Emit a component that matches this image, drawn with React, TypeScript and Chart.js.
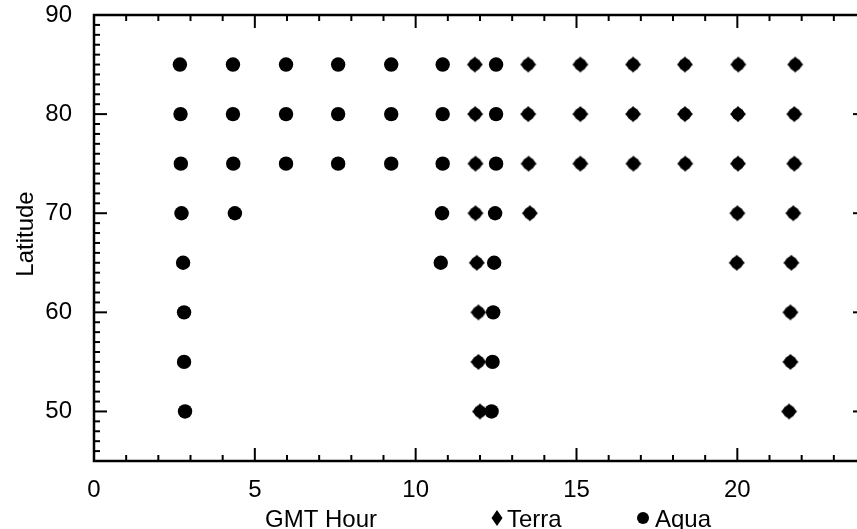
import React, { useEffect, useRef } from "react";
import { Chart, registerables } from "chart.js";

Chart.register(...registerables);

// ---- data (GMT hour, latitude) ----
const aquaHours = [
  2.67, 4.32, 5.97, 7.59, 9.24, 10.84, 12.5,
  2.69, 4.32, 5.97, 7.59, 9.24, 10.84, 12.5,
  2.7, 4.33, 5.97, 7.59, 9.24, 10.84, 12.5,
  2.72, 4.38, 10.82, 12.47,
  2.77, 10.78, 12.44,
  2.8, 12.41,
  2.8, 12.39,
  2.83, 12.36,
];
const aquaLats = [
  85, 85, 85, 85, 85, 85, 85,
  80, 80, 80, 80, 80, 80, 80,
  75, 75, 75, 75, 75, 75, 75,
  70, 70, 70, 70,
  65, 65, 65,
  60, 60,
  55, 55,
  50, 50,
];
const terraHours = [
  11.84, 13.5, 15.12, 16.76, 18.37, 20.03, 21.8,
  11.85, 13.5, 15.12, 16.76, 18.37, 20.02, 21.77,
  11.86, 13.51, 15.12, 16.77, 18.38, 20.02, 21.77,
  11.86, 13.55, 20.0, 21.74,
  11.9, 19.98, 21.68,
  11.95, 21.65,
  11.95, 21.65,
  12.0, 21.61,
];
const terraLats = [
  85, 85, 85, 85, 85, 85, 85,
  80, 80, 80, 80, 80, 80, 80,
  75, 75, 75, 75, 75, 75, 75,
  70, 70, 70, 70,
  65, 65, 65,
  60, 60,
  55, 55,
  50, 50,
];
const xTicks = [0, 5, 10, 15, 20];
const yTicks = [50, 60, 70, 80, 90];
const xRange = [0, 24];
const yRange = [45, 90];
const xTitle = "GMT Hour";
const yTitle = "Latitude";
const seriesNames = ["Terra", "Aqua"];

const FONT = '"Liberation Sans", Arial, Helvetica, sans-serif';

function makeTerraMarker(): HTMLCanvasElement {
  const c = document.createElement("canvas");
  c.width = 18;
  c.height = 18;
  const g = c.getContext("2d")!;
  g.fillStyle = "#000";
  g.beginPath();
  g.arc(9, 9, 6.2, 0, Math.PI * 2);
  g.fill();
  g.beginPath();
  g.moveTo(9, 1);
  g.lineTo(17, 9);
  g.lineTo(9, 17);
  g.lineTo(1, 9);
  g.closePath();
  g.fill();
  return c;
}

const framePlugin = {
  id: "idlFrame",
  afterDraw(chart: any) {
    const { ctx, chartArea, scales } = chart;
    const { left, right, top, bottom } = chartArea;
    const x = scales.x;
    const y = scales.y;
    ctx.save();
    ctx.strokeStyle = "#000";
    ctx.lineWidth = 2.5;
    ctx.strokeRect(left, top, right - left, bottom - top);
    ctx.lineWidth = 2;
    const line = (x1: number, y1: number, x2: number, y2: number) => {
      ctx.beginPath();
      ctx.moveTo(x1, y1);
      ctx.lineTo(x2, y2);
      ctx.stroke();
    };
    for (let h = xRange[0]; h <= xRange[1]; h++) {
      const px = x.getPixelForValue(h);
      const len = h % 5 === 0 ? 13 : 6;
      line(px, bottom, px, bottom - len);
      line(px, top, px, top + len);
    }
    for (let v = yRange[0]; v <= yRange[1]; v++) {
      const py = y.getPixelForValue(v);
      const len = v % 10 === 0 ? 13 : 6;
      line(left, py, left + len, py);
      line(right, py, right - len, py);
    }

    ctx.fillStyle = "#000";
    ctx.font = `24px ${FONT}`;
    ctx.textBaseline = "alphabetic";
    ctx.textAlign = "left";
    ctx.fillText(xTitle, 265, 527);

    // legend
    ctx.beginPath();
    ctx.moveTo(497, 510);
    ctx.lineTo(502.5, 518);
    ctx.lineTo(497, 526);
    ctx.lineTo(491.5, 518);
    ctx.closePath();
    ctx.fill();
    ctx.fillText(seriesNames[0], 507, 527);
    ctx.beginPath();
    ctx.arc(643, 518, 6, 0, Math.PI * 2);
    ctx.fill();
    ctx.fillText(seriesNames[1], 655, 527);

    // y title
    ctx.translate(33, 234);
    ctx.rotate(-Math.PI / 2);
    ctx.textAlign = "center";
    ctx.fillText(yTitle, 0, 0);
    ctx.restore();
  },
};

export default function App() {
  const ref = useRef<HTMLCanvasElement | null>(null);

  useEffect(() => {
    if (!ref.current) return;
    const terraPts = terraHours.map((h, i) => ({ x: h, y: terraLats[i] }));
    const aquaPts = aquaHours.map((h, i) => ({ x: h, y: aquaLats[i] }));
    const chart = new Chart(ref.current, {
      type: "scatter",
      data: {
        datasets: [
          {
            label: seriesNames[0],
            data: terraPts,
            pointStyle: makeTerraMarker() as any,
            pointRadius: 9,
            backgroundColor: "#000",
            borderColor: "#000",
          },
          {
            label: seriesNames[1],
            data: aquaPts,
            pointStyle: "circle",
            pointRadius: 7.2,
            borderWidth: 0,
            backgroundColor: "#000",
            borderColor: "#000",
          },
        ],
      },
      options: {
        responsive: false,
        animation: false,
        layout: { padding: { top: 15, right: 14, left: 0, bottom: 0 } },
        plugins: { legend: { display: false }, tooltip: { enabled: false } },
        scales: {
          x: {
            type: "linear",
            min: xRange[0],
            max: xRange[1],
            grid: { display: false },
            border: { display: false },
            afterBuildTicks: (s: any) => {
              s.ticks = xTicks.map((v) => ({ value: v }));
            },
            afterFit: (s: any) => {
              s.height = 68;
              s.paddingLeft = 0;
              s.paddingRight = 0;
            },
            ticks: {
              font: { size: 24, family: FONT },
              color: "#000",
              padding: 7,
              maxRotation: 0,
              autoSkip: false,
            },
          },
          y: {
            type: "linear",
            min: yRange[0],
            max: yRange[1],
            grid: { display: false },
            border: { display: false },
            afterBuildTicks: (s: any) => {
              s.ticks = yTicks.map((v) => ({ value: v }));
            },
            afterFit: (s: any) => {
              s.width = 94;
              s.paddingTop = 0;
              s.paddingBottom = 0;
            },
            ticks: {
              font: { size: 24, family: FONT },
              color: "#000",
              padding: 14,
              autoSkip: false,
            },
          },
        },
      },
      plugins: [framePlugin],
    });
    return () => chart.destroy();
  }, []);

  return (
    <div
      style={{
        position: "fixed",
        left: 0,
        top: 0,
        width: 857,
        height: 529,
        overflow: "hidden",
        background: "#fff",
      }}
    >
      <canvas ref={ref} width={880} height={529} style={{ display: "block" }} />
    </div>
  );
}
